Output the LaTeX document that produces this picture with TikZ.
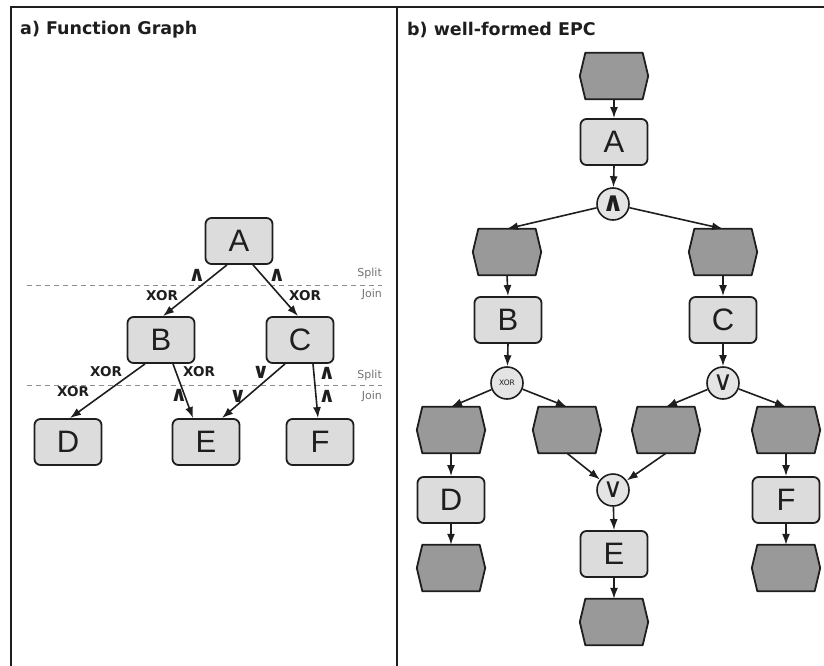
\documentclass[tikz,border=0pt]{standalone}
\usepackage{fontspec}
\setmainfont{Liberation Sans}
\newfontfamily\dvs{DejaVu Sans}
\usetikzlibrary{arrows.meta,calc}
\definecolor{boxgray}{HTML}{DCDCDC}
\definecolor{evgray}{HTML}{999999}
\definecolor{circgray}{HTML}{E4E4E4}
\definecolor{ink}{HTML}{1E1E1E}
\begin{document}
\begin{tikzpicture}[x=1pt,y=-1pt,
  fn/.style={draw=ink, line width=1.8pt, rounded corners=6pt, fill=boxgray,
    minimum width=67pt, minimum height=46pt, inner sep=0pt,
    font=\fontsize{31}{32}\selectfont, text=ink},
  evbox/.style={minimum width=68pt, minimum height=46pt, inner sep=0pt},
  evshape/.style={draw=ink, fill=evgray, line width=1.8pt, line join=round},
  conn/.style={circle, draw=ink, line width=1.6pt, fill=circgray,
    minimum size=32pt, inner sep=0pt, text=ink},
  arr/.style={-{Latex[length=11pt,width=8pt]}, line width=1.6pt, draw=ink},
  title/.style={anchor=west, inner sep=0pt, text=ink,
    font=\dvs\bfseries\fontsize{17.5}{20}\selectfont},
  gl/.style={inner sep=0pt, text=ink, font=\dvs\bfseries\fontsize{13.5}{15}\selectfont},
  sym/.style={inner sep=0pt, text=ink, font=\dvs\bfseries\fontsize{21}{22}\selectfont},
  sj/.style={anchor=east, inner sep=0pt, text=black!55, font=\dvs\fontsize{11}{13}\selectfont},
  level/.style={draw=black!45, line width=0.8pt, dash pattern=on 5pt off 4pt}
]
\useasboundingbox (0,0) rectangle (824,666);

% frame and panel divider
\draw[line width=2pt, draw=ink] (11,666) -- (11,7) -- (824,7);
\draw[line width=2pt, draw=ink] (397,7) -- (397,666);

% ---------- a) function graph ----------
\node[title] (ta) at (20,30) {a) Function Graph};

\draw[level] (27,285) -- (382,285);
\draw[level] (27,385) -- (382,385);
\node[sj] (s1) at (382,273) {Split};
\node[sj] (j1) at (382,294) {Join};
\node[sj] (s2) at (382,375) {Split};
\node[sj] (j2) at (382,396) {Join};

\node[fn] (fA) at (239,241) {A};
\node[fn] (fB) at (161,340) {B};
\node[fn] (fC) at (300,340) {C};
\node[fn] (fD) at (68,442) {D};
\node[fn] (fE) at (206,442) {E};
\node[fn] (fF) at (320,442) {F};

\draw[arr] ([xshift=-12pt]fA.south) -- ([xshift=2pt]fB.north);
\draw[arr] ([xshift=14pt]fA.south) -- ([xshift=-2pt]fC.north);
\draw[arr] ([xshift=-16pt]fB.south) -- ([xshift=2pt]fD.north);
\draw[arr] ([xshift=12pt]fB.south) -- ([xshift=-13pt]fE.north);
\draw[arr] ([xshift=-15pt]fC.south) -- ([xshift=16pt]fE.north);
\draw[arr] ([xshift=13pt]fC.south) -- ([xshift=-2pt]fF.north);

\node[sym] (lab1) at (197,275) {∧};
\node[gl]  (lab2) at (162,296) {XOR};
\node[sym] (lab3) at (277,275) {∧};
\node[gl]  (lab4) at (305,296) {XOR};
\node[gl]  (lab5) at (106,372) {XOR};
\node[gl]  (lab6) at (73,392) {XOR};
\node[gl]  (lab7) at (199,372) {XOR};
\node[sym] (lab8) at (179,395) {∧};
\node[sym] (lab9) at (261,372) {∨};
\node[sym] (lab10) at (238,396) {∨};
\node[sym] (lab11) at (327,373) {∧};
\node[sym] (lab12) at (327,396) {∧};

% ---------- b) well-formed EPC ----------
\node[title] (tb) at (407,30) {b) well-formed EPC};

% events (hexagons)
\node[evbox] (e0) at (614,76) {};
\node[evbox] (e1) at (507,252) {};
\node[evbox] (e2) at (723,252) {};
\node[evbox] (e3) at (451,430) {};
\node[evbox] (e4) at (567,430) {};
\node[evbox] (e5) at (666,430) {};
\node[evbox] (e6) at (786,430) {};
\node[evbox] (e7) at (451,568) {};
\node[evbox] (e8) at (786,568) {};
\node[evbox] (e9) at (614,622) {};
\foreach \n in {e0,e1,e2,e3,e4,e5,e6,e7,e8,e9}
  \draw[evshape] ($(\n.north west)+(5.5pt,0)$) -- ($(\n.north east)+(-5.5pt,0)$)
    -- (\n.east) -- ($(\n.south east)+(-5.5pt,0)$) -- ($(\n.south west)+(5.5pt,0)$)
    -- (\n.west) -- cycle;

% functions
\node[fn] (gA) at (614,142) {A};
\node[fn] (gB) at (508,320) {B};
\node[fn] (gC) at (723,320) {C};
\node[fn] (gD) at (451,500) {D};
\node[fn] (gE) at (614,554) {E};
\node[fn] (gF) at (786,500) {F};

% connectors
\node[conn, font=\dvs\bfseries\fontsize{27}{28}\selectfont] (and1) at (613,204) {∧};
\node[conn, font=\dvs\fontsize{7.5}{8}\selectfont] (xor1) at (507,383) {XOR};
\node[conn, font=\dvs\fontsize{27}{28}\selectfont] (or1) at (723,383) {∨};
\node[conn, font=\dvs\fontsize{27}{28}\selectfont] (or2) at (613,490) {∨};

% control flow
\draw[arr] (e0.south) -- (gA.north);
\draw[arr] (gA.south) -- (and1);
\draw[arr] (and1) -- (e1.north);
\draw[arr] (and1) -- (e2.north);
\draw[arr] (e1.south) -- (gB.north);
\draw[arr] (e2.south) -- (gC.north);
\draw[arr] (gB.south) -- (xor1);
\draw[arr] (gC.south) -- (or1);
\draw[arr] (xor1) -- (e3.north);
\draw[arr] (xor1) -- (e4.north);
\draw[arr] (or1) -- (e5.north);
\draw[arr] (or1) -- (e6.north);
\draw[arr] (e3.south) -- (gD.north);
\draw[arr] (e6.south) -- (gF.north);
\draw[arr] (e4.south) -- (or2);
\draw[arr] (e5.south) -- (or2);
\draw[arr] (or2) -- (gE.north);
\draw[arr] (gD.south) -- (e7.north);
\draw[arr] (gF.south) -- (e8.north);
\draw[arr] (gE.south) -- (e9.north);
\end{tikzpicture}
\end{document}
